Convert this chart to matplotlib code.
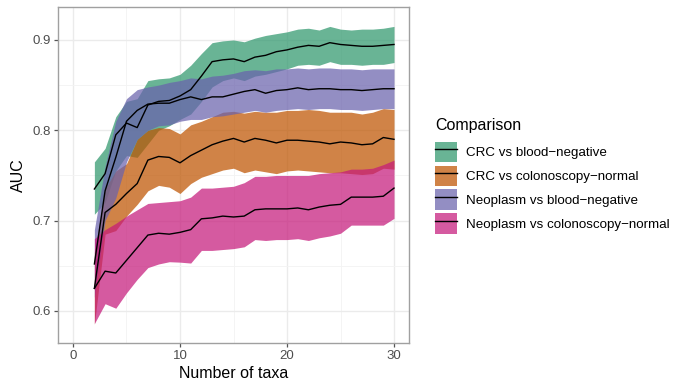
import matplotlib
matplotlib.use("Agg")
import matplotlib.pyplot as plt
from matplotlib.patches import Patch
from matplotlib.lines import Line2D
import numpy as np

plt.rcParams['font.family'] = ['Liberation Sans', 'DejaVu Sans']

n_taxa = list(range(2, 31))

comparisons = ["CRC vs blood\u2212negative", "CRC vs colonoscopy\u2212normal",
               "Neoplasm vs blood\u2212negative", "Neoplasm vs colonoscopy\u2212normal"]
colors = ["#2F976D", "#BE5400", "#6A62AD", "#C61A7B"]

crc_blood_mean = [0.735, 0.752, 0.795, 0.808, 0.803, 0.828, 0.832, 0.833, 0.838, 0.845,
                  0.860, 0.876, 0.878, 0.879, 0.876, 0.881, 0.883, 0.887, 0.889, 0.892,
                  0.894, 0.893, 0.897, 0.895, 0.894, 0.893, 0.893, 0.894, 0.895]
crc_blood_hi = [0.765, 0.780, 0.815, 0.832, 0.835, 0.855, 0.857, 0.858, 0.862, 0.872,
                0.885, 0.897, 0.899, 0.900, 0.898, 0.902, 0.905, 0.907, 0.909, 0.912,
                0.913, 0.911, 0.915, 0.912, 0.911, 0.912, 0.912, 0.913, 0.915]
crc_blood_lo = [0.707, 0.720, 0.755, 0.772, 0.770, 0.785, 0.800, 0.805, 0.812, 0.818,
                0.832, 0.848, 0.855, 0.858, 0.855, 0.860, 0.862, 0.865, 0.868, 0.872,
                0.873, 0.872, 0.876, 0.873, 0.873, 0.872, 0.873, 0.873, 0.875]

crc_colo_mean = [0.625, 0.709, 0.718, 0.730, 0.741, 0.767, 0.771, 0.770, 0.764, 0.772,
                 0.778, 0.784, 0.788, 0.791, 0.787, 0.791, 0.789, 0.786, 0.789, 0.789,
                 0.788, 0.787, 0.785, 0.787, 0.786, 0.784, 0.785, 0.792, 0.790]
crc_colo_hi = [0.665, 0.735, 0.755, 0.763, 0.790, 0.800, 0.803, 0.802, 0.796, 0.806,
               0.810, 0.815, 0.820, 0.821, 0.819, 0.821, 0.820, 0.820, 0.822, 0.822,
               0.823, 0.822, 0.820, 0.820, 0.820, 0.818, 0.820, 0.824, 0.823]
crc_colo_lo = [0.585, 0.685, 0.689, 0.705, 0.718, 0.733, 0.739, 0.737, 0.730, 0.741,
               0.748, 0.752, 0.756, 0.758, 0.753, 0.756, 0.754, 0.752, 0.755, 0.756,
               0.755, 0.754, 0.753, 0.753, 0.752, 0.751, 0.752, 0.758, 0.757]

neo_blood_mean = [0.652, 0.733, 0.770, 0.810, 0.822, 0.829, 0.830, 0.830, 0.834, 0.837,
                  0.834, 0.837, 0.837, 0.840, 0.843, 0.845, 0.841, 0.844, 0.845, 0.847,
                  0.845, 0.846, 0.846, 0.845, 0.845, 0.844, 0.845, 0.846, 0.846]
neo_blood_hi = [0.690, 0.760, 0.810, 0.835, 0.845, 0.848, 0.850, 0.853, 0.855, 0.858,
                0.857, 0.860, 0.861, 0.863, 0.866, 0.867, 0.866, 0.868, 0.868, 0.869,
                0.868, 0.869, 0.869, 0.868, 0.868, 0.867, 0.868, 0.868, 0.868]
neo_blood_lo = [0.615, 0.700, 0.725, 0.765, 0.790, 0.800, 0.805, 0.806, 0.810, 0.812,
                0.812, 0.815, 0.816, 0.818, 0.820, 0.822, 0.820, 0.822, 0.823, 0.824,
                0.823, 0.824, 0.824, 0.823, 0.823, 0.822, 0.823, 0.824, 0.824]

neo_colo_mean = [0.625, 0.644, 0.642, 0.656, 0.670, 0.684, 0.686, 0.685, 0.687, 0.690,
                 0.702, 0.703, 0.705, 0.704, 0.705, 0.712, 0.713, 0.713, 0.713, 0.714,
                 0.712, 0.715, 0.717, 0.718, 0.726, 0.726, 0.726, 0.727, 0.736]
neo_colo_hi = [0.680, 0.690, 0.697, 0.705, 0.712, 0.719, 0.720, 0.721, 0.722, 0.726,
               0.736, 0.736, 0.737, 0.738, 0.742, 0.749, 0.749, 0.750, 0.750, 0.750,
               0.750, 0.752, 0.753, 0.754, 0.757, 0.757, 0.758, 0.762, 0.767]
neo_colo_lo = [0.586, 0.608, 0.603, 0.620, 0.635, 0.648, 0.652, 0.6545, 0.654, 0.653,
               0.667, 0.667, 0.668, 0.669, 0.671, 0.679, 0.678, 0.679, 0.679, 0.680,
               0.678, 0.681, 0.683, 0.686, 0.695, 0.695, 0.695, 0.695, 0.7025]

means = [crc_blood_mean, crc_colo_mean, neo_blood_mean, neo_colo_mean]
his = [crc_blood_hi, crc_colo_hi, neo_blood_hi, neo_colo_hi]
los = [crc_blood_lo, crc_colo_lo, neo_blood_lo, neo_colo_lo]

x_ticks = [0, 10, 20, 30]
y_ticks = [0.6, 0.7, 0.8, 0.9]

fig = plt.figure(figsize=(6.73, 3.85), dpi=100)
ax = fig.add_axes([58/673, 1-343/385, (409-58)/673, (343-7)/385])

alpha = 0.72
for lo, hi, c in zip(los, his, colors):
    ax.fill_between(n_taxa, lo, hi, color=c, alpha=alpha, linewidth=0, zorder=2)
for m in means:
    ax.plot(n_taxa, m, color="black", lw=1.0, zorder=3)

ax.set_xlim(-1.4, 31.4)
ax.set_ylim(0.5645, 0.9365)
ax.set_xticks(x_ticks)
ax.set_yticks(y_ticks)
ax.set_xticks([5, 15, 25], minor=True)
ax.set_yticks([0.65, 0.75, 0.85], minor=True)
ax.set_xticklabels([str(t) for t in x_ticks])
ax.set_yticklabels([f"{t:.1f}" for t in y_ticks])
ax.grid(which="major", color="#EBEBEB", lw=1.0, zorder=0)
ax.grid(which="minor", color="#F3F3F3", lw=0.6, zorder=0)
ax.set_axisbelow(True)
for s in ax.spines.values():
    s.set_color("#A0A0A0")
    s.set_linewidth(1.0)
ax.tick_params(which="major", length=3, width=0.9, color="#555555",
               labelsize=9.5, labelcolor="#4D4D4D", pad=2)
ax.tick_params(which="minor", length=0)

ax.set_xlabel("Number of taxa", fontsize=11.5, color="black", labelpad=3)
ax.set_ylabel("AUC", fontsize=11.5, color="black", labelpad=5)

handles = [(Patch(facecolor=c, alpha=alpha, edgecolor="none"),
            Line2D([], [], color="black", lw=1.0)) for c in colors]
leg = fig.legend(handles, comparisons, title="Comparison",
                 loc="upper left", bbox_to_anchor=(430/673, 1-113/385),
                 frameon=False, fontsize=9.6, title_fontsize=11.5,
                 handlelength=1.65, handleheight=1.95, handletextpad=0.65,
                 labelspacing=0.28, borderaxespad=0)
leg._legend_box.align = "left"
leg._legend_box.sep = 6

fig.savefig("out.png", dpi=100)
